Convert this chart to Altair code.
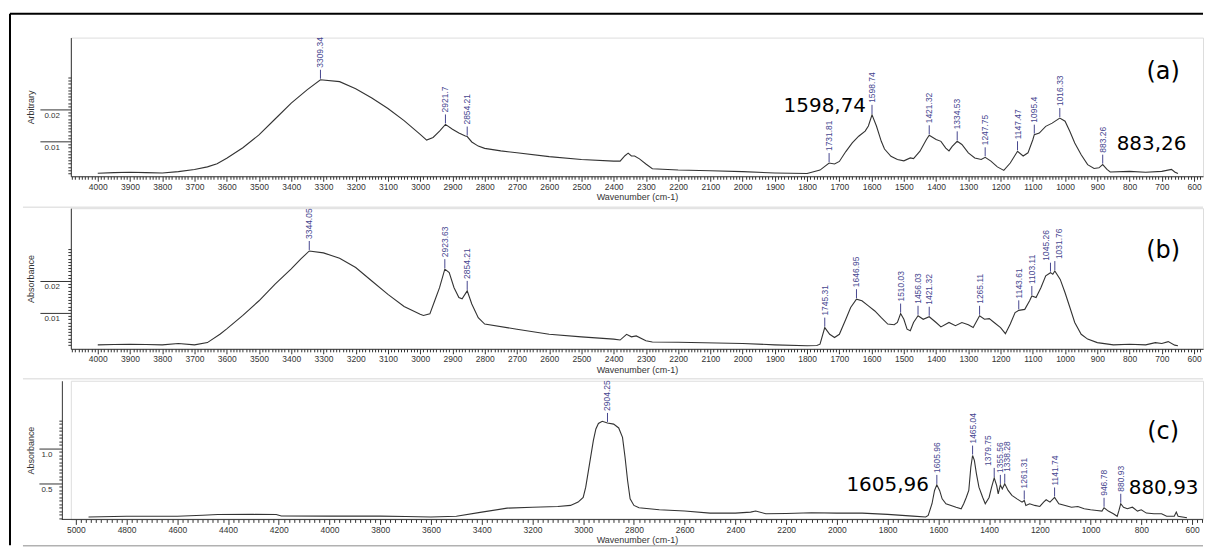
import altair as alt
import numpy as np
import pandas as pd

# ---------------- panel (a) ----------------
A_WAVENUMBER = [4000, 3950, 3900, 3850, 3800, 3750, 3700, 3660, 3630, 3600, 3550, 3500, 3450, 3400,
                3350, 3309.34, 3250, 3200, 3150, 3100, 3050, 3000, 2980, 2960, 2940, 2921.7, 2900,
                2880, 2860, 2854.21, 2840, 2820, 2800, 2750, 2700, 2600, 2500, 2400, 2380, 2365, 2355,
                2345, 2335, 2320, 2300, 2280, 2200, 2100, 2000, 1900, 1800, 1760, 1731.81, 1715, 1700,
                1680, 1660, 1640, 1620, 1610, 1598.74, 1585, 1570, 1560, 1540, 1520, 1500, 1480, 1470,
                1450, 1430, 1421.32, 1400, 1385, 1370, 1360, 1350, 1334.53, 1320, 1300, 1280, 1260,
                1247.75, 1230, 1210, 1190, 1170, 1147.47, 1130, 1115, 1100, 1095.4, 1080, 1060, 1040,
                1016.33, 1000, 985, 970, 950, 930, 910, 895, 883.26, 870, 860, 800, 750, 700, 670, 660, 650]
A_ARBITRARY = [0.0, 0.0002, 0.0003, 0.0002, 0.0001, 0.0005, 0.0012, 0.0020, 0.0030, 0.0047, 0.0080,
               0.0120, 0.0170, 0.0220, 0.0262, 0.0293, 0.0287, 0.0265, 0.0236, 0.0203, 0.0165, 0.0122,
               0.0104, 0.0112, 0.0132, 0.0153, 0.0138, 0.0126, 0.0117, 0.0115, 0.0098, 0.0085, 0.0078,
               0.0070, 0.0064, 0.0052, 0.0043, 0.0038, 0.0038, 0.0055, 0.0063, 0.0054, 0.0054, 0.0045,
               0.0029, 0.0014, 0.0010, 0.0008, 0.0005, 0.0001, -0.0001, 0.0010, 0.0032, 0.0029, 0.0037,
               0.0068, 0.0095, 0.0116, 0.0132, 0.0148, 0.0183, 0.0148, 0.0100, 0.0076, 0.0053, 0.0043,
               0.0039, 0.0048, 0.0046, 0.0069, 0.0106, 0.0119, 0.0106, 0.0100, 0.0079, 0.0070, 0.0084,
               0.0100, 0.0090, 0.0064, 0.0048, 0.0043, 0.0050, 0.0038, 0.0020, 0.0009, 0.0032, 0.0069,
               0.0054, 0.0064, 0.0105, 0.0121, 0.0126, 0.0147, 0.0157, 0.0173, 0.0163, 0.0131, 0.0095,
               0.0058, 0.0027, 0.0015, 0.0017, 0.0027, 0.0012, 0.0004, 0.0006, 0.0003, 0.0006, 0.0012,
               0.0004, -0.0001]
A_PEAKS = ["3309.34", "2921.7", "2854.21", "1731.81", "1598.74", "1421.32", "1334.53", "1247.75",
           "1147.47", "1095.4", "1016.33", "883.26"]

# ---------------- panel (b) ----------------
B_WAVENUMBER = [4000, 3950, 3900, 3850, 3800, 3750, 3700, 3660, 3620, 3600, 3550, 3500, 3450, 3400,
                3370, 3344.05, 3300, 3250, 3200, 3150, 3100, 3050, 3000, 2990, 2970, 2955, 2940, 2923.63,
                2910, 2895, 2880, 2870, 2854.21, 2840, 2820, 2800, 2700, 2600, 2500, 2400, 2380, 2360,
                2345, 2330, 2300, 2280, 2200, 2000, 1900, 1800, 1770, 1760, 1745.31, 1730, 1715, 1700,
                1680, 1665, 1646.95, 1630, 1610, 1590, 1570, 1550, 1530, 1520, 1510.03, 1500, 1490, 1480,
                1470, 1456.03, 1440, 1421.32, 1400, 1385, 1360, 1340, 1320, 1300, 1285, 1265.11, 1250,
                1235, 1220, 1200, 1185, 1170, 1155, 1143.61, 1125, 1110, 1103.11, 1090, 1075, 1060,
                1045.26, 1038, 1031.76, 1015, 1000, 985, 970, 950, 930, 900, 850, 800, 750, 720, 700,
                680, 660, 650]
B_ABSORBANCE = [0.0, 0.0001, 0.0002, 0.0001, 0.0, 0.0004, 0.0, 0.0007, 0.0034, 0.0050, 0.0092, 0.0138,
                0.0190, 0.0238, 0.0269, 0.0294, 0.0288, 0.0271, 0.0242, 0.0200, 0.0158, 0.0120, 0.0096,
                0.0092, 0.0097, 0.0138, 0.0179, 0.0237, 0.0226, 0.0179, 0.0148, 0.0144, 0.0169, 0.0128,
                0.0085, 0.0065, 0.0049, 0.0033, 0.0025, 0.0018, 0.0015, 0.0033, 0.0025, 0.0028, 0.0013,
                0.0009, 0.0008, 0.0004, 0.0, -0.0003, -0.0002, 0.0002, 0.0054, 0.0033, 0.0023, 0.0033,
                0.0080, 0.0117, 0.0143, 0.0138, 0.0122, 0.0106, 0.0085, 0.0065, 0.0063, 0.0070, 0.0098,
                0.0080, 0.0049, 0.0044, 0.0070, 0.0091, 0.0080, 0.0088, 0.0070, 0.0056, 0.0070, 0.0060,
                0.0070, 0.0063, 0.0054, 0.0091, 0.0080, 0.0082, 0.0070, 0.0054, 0.0035, 0.0065, 0.0101,
                0.0108, 0.0111, 0.0138, 0.0153, 0.0148, 0.0179, 0.0216, 0.0226, 0.0221, 0.0231, 0.0205,
                0.0163, 0.0117, 0.0070, 0.0033, 0.0018, 0.0007, 0.0, 0.0002, 0.0, 0.0007, 0.0004, 0.0010,
                -0.0001, -0.0003]
B_PEAKS = ["3344.05", "2923.63", "2854.21", "1745.31", "1646.95", "1510.03", "1456.03", "1421.32",
           "1265.11", "1143.61", "1103.11", "1045.26", "1031.76"]

# ---------------- panel (c) ----------------
C_WAVENUMBER = [4950, 4800, 4600, 4500, 4440, 4300, 4210, 4190, 4000, 3800, 3700, 3600, 3500, 3400,
                3300, 3200, 3100, 3050, 3020, 3000, 2990, 2975, 2960, 2950, 2940, 2925, 2904.25, 2880,
                2860, 2845, 2835, 2825, 2815, 2800, 2780, 2700, 2600, 2500, 2400, 2340, 2320, 2280, 2200,
                2100, 2000, 1900, 1800, 1700, 1650, 1640, 1625, 1615, 1605.96, 1595, 1585, 1570, 1550,
                1530, 1510, 1500, 1490, 1480, 1472, 1465.04, 1458, 1450, 1440, 1425, 1415, 1400, 1390,
                1379.75, 1370, 1364, 1355.56, 1348, 1338.28, 1325, 1310, 1290, 1270, 1261.31, 1255, 1240,
                1220, 1200, 1185, 1175, 1160, 1141.74, 1125, 1100, 1075, 1050, 1025, 1000, 975, 955,
                946.78, 930, 910, 895, 888, 880.93, 870, 855, 835, 815, 800, 780, 750, 720, 700, 670,
                662, 655, 620]
C_ABSORBANCE = [0.02, 0.03, 0.03, 0.045, 0.055, 0.057, 0.055, 0.035, 0.033, 0.033, 0.028, 0.02, 0.03,
                0.09, 0.147, 0.16, 0.171, 0.186, 0.233, 0.30, 0.447, 0.78, 1.114, 1.28, 1.36, 1.39,
                1.367, 1.35, 1.295, 1.16, 0.876, 0.543, 0.28, 0.186, 0.152, 0.124, 0.105, 0.076, 0.076,
                0.09, 0.105, 0.067, 0.071, 0.08, 0.076, 0.076, 0.057, 0.033, 0.02, 0.043, 0.21, 0.40,
                0.48, 0.40, 0.28, 0.21, 0.186, 0.16, 0.138, 0.21, 0.30, 0.40, 0.733, 0.90, 0.83, 0.64,
                0.447, 0.30, 0.21, 0.30, 0.447, 0.58, 0.47, 0.35, 0.48, 0.42, 0.495, 0.40, 0.33, 0.28,
                0.233, 0.257, 0.186, 0.21, 0.186, 0.171, 0.233, 0.267, 0.233, 0.30, 0.21, 0.186, 0.16,
                0.171, 0.138, 0.124, 0.114, 0.105, 0.152, 0.105, 0.067, 0.03, 0.114, 0.21, 0.16, 0.138,
                0.16, 0.105, 0.124, 0.076, 0.067, 0.067, 0.03, 0.03, 0.09, 0.03, 0.01]
C_PEAKS = ["2904.25", "1605.96", "1465.04", "1379.75", "1355.56", "1338.28", "1261.31", "1141.74",
           "946.78", "880.93"]

# big annotations written beside two peaks in panels (a) and (c)
A_NOTES = ["1598,74", "883,26"]
C_NOTES = ["1605,96", "880,93"]
TAGS = ["(a)", "(b)", "(c)"]

FONT_SMALL = "Liberation Sans"
FONT_BIG = "DejaVu Sans"
INK = "#333333"
PEAK_INK = "#46468f"
PLOT_W = 1135


def peak_frame(ws, vs, labels):
    lookup = dict(zip(ws, vs))
    return pd.DataFrame({"w": [float(t) for t in labels],
                         "v": [lookup[float(t)] for t in labels],
                         "t": labels})


def one_row(**kw):
    return pd.DataFrame({k: [v] for k, v in kw.items()})


def panel(ws, vs, peaks, nudges, notes, tag, *, xdom, xstep, xmajor, ydom, yvals, ytest, yfmt,
          ytitle, height, ytick, ylabpad, yoffset, titlex, tag_y, c_axis=False):
    df = pd.DataFrame({"w": ws, "v": vs})
    xs = alt.Scale(domain=xdom, reverse=True, nice=False, zero=False)
    ys = alt.Scale(domain=ydom, nice=False, zero=False)
    xt = f"datum.value % {xmajor} === 0"
    xvals = list(range(int(np.ceil(xdom[0] / xstep) * xstep), int(xdom[1]) + 1, xstep))
    xaxis_kw = dict(values=xvals, format="d", labelExpr=f"{xt} ? datum.label : ''",
                    labelOverlap=False, tickSize={"condition": {"test": xt, "value": 5}, "value": 3},
                    tickColor=INK, domainColor=INK, labelColor=INK, labelFont=FONT_SMALL,
                    labelFontSize=8.5, labelPadding=1, title="Wavenumber (cm-1)",
                    titleFont=FONT_SMALL, titleFontSize=9, titleFontWeight="normal",
                    titleColor=INK, titlePadding=2, grid=False)
    if c_axis:
        xaxis_kw["domain"] = False
    xaxis = alt.Axis(**xaxis_kw)
    yaxis_kw = dict(values=yvals, labelExpr=f"{ytest} ? format(datum.value, '{yfmt}') : ''",
                    labelOverlap=False,
                    tickSize={"condition": {"test": ytest, "value": ytick}, "value": 3},
                    tickColor=INK, domainColor=INK, labelColor=INK, labelFont=FONT_SMALL,
                    labelFontSize=8, labelAlign="left", labelBaseline="top",
                    labelPadding=ylabpad, labelOffset=2, title=ytitle, titleFont=FONT_SMALL,
                    titleFontSize=9, titleFontWeight="normal", titleColor=INK,
                    titleX=titlex, titleY=height / 2, titleAngle=270, titleAlign="center",
                    titleBaseline="middle", grid=False)
    if yoffset:
        yaxis_kw["offset"] = yoffset
    yaxis = alt.Axis(**yaxis_kw)
    X = alt.X("w:Q", scale=xs, axis=xaxis)
    Y = alt.Y("v:Q", scale=ys, axis=yaxis)

    layers = [alt.Chart(df).mark_line(color=INK, strokeWidth=1.1).encode(x=X, y=Y)]

    pdf = peak_frame(ws, vs, peaks)
    layers.append(alt.Chart(pdf).mark_rule(color=PEAK_INK, strokeWidth=1, yOffset=-1,
                                           y2Offset=-10).encode(x=X, y=Y, y2=alt.Y2("v")))
    groups = {}
    for t in peaks:
        groups.setdefault(nudges.get(t, 0), []).append(t)
    for shift, labs in groups.items():
        layers.append(alt.Chart(pdf[pdf["t"].isin(labs)]).mark_text(
            angle=270, align="left", baseline="middle", yOffset=-12, xOffset=shift,
            font=FONT_SMALL, fontSize=8.5, color=PEAK_INK).encode(x=X, y=Y, text="t:N"))

    for note, (align, dx, dy) in notes:
        w = float(note.replace(",", "."))
        ndf = one_row(w=w, v=dict(zip(ws, vs))[w], t=note)
        layers.append(alt.Chart(ndf).mark_text(align=align, baseline="middle", dx=dx, dy=dy,
                                               font=FONT_BIG, fontSize=20, color="black")
                      .encode(x=X, y=Y, text="t:N"))

    layers.append(alt.Chart(one_row(t=tag)).mark_text(
        align="center", baseline="middle", font=FONT_BIG, fontSize=24, color="black")
        .encode(x=alt.value(1095), y=alt.value(tag_y), text="t:N"))
    return layers, height


# ---- frame decorations ----
def hrule(y, x1, x2, color, width):
    return alt.Chart(one_row(k=0)).mark_rule(color=color, strokeWidth=width).encode(
        x=alt.value(x1), x2=alt.value(x2), y=alt.value(y))


def vrule(x, y1, y2, color, width):
    return alt.Chart(one_row(k=0)).mark_rule(color=color, strokeWidth=width).encode(
        x=alt.value(x), y=alt.value(y1), y2=alt.value(y2))


ab_test = "abs(datum.value - 0.01) < 1e-6 || abs(datum.value - 0.02) < 1e-6"
ab_vals = [round(i * 0.001, 3) for i in range(0, 31)]
c_test = "abs(datum.value - 0.5) < 1e-6 || abs(datum.value - 1) < 1e-6"
c_vals = [round(i * 0.05, 2) for i in range(0, 29)]
RIGHT = PLOT_W

la, ha = panel(A_WAVENUMBER, A_ARBITRARY, A_PEAKS, {},
               [(A_NOTES[0], ("right", -6, -9)), (A_NOTES[1], ("left", 14, -21))], TAGS[0],
               xdom=[572.2, 4083.5], xstep=10, xmajor=100, ydom=[-0.00094, 0.0425], yvals=ab_vals,
               ytest=ab_test, yfmt=".2f", ytitle="Arbitrary", height=139, ytick=31, ylabpad=-4,
               yoffset=0, titlex=-40, tag_y=34)
la += [hrule(-24, -61, RIGHT, "black", 2), vrule(-61, -24, 509, "black", 2)]
chart_a = alt.layer(*la).properties(width=PLOT_W, height=ha)

lb, hb = panel(B_WAVENUMBER, B_ABSORBANCE, B_PEAKS, {"1045.26": -4, "1031.76": 4}, [], TAGS[1],
               xdom=[572.2, 4083.5], xstep=10, xmajor=100, ydom=[-0.00125, 0.0428], yvals=ab_vals,
               ytest=ab_test, yfmt=".2f", ytitle="Absorbance", height=141, ytick=31, ylabpad=-4,
               yoffset=0, titlex=-40, tag_y=43)
lb += [hrule(-1, -48, RIGHT, "#e4e4e4", 1.5)]
chart_b = alt.layer(*lb).properties(width=PLOT_W, height=hb)

lc, hc = panel(C_WAVENUMBER, C_ABSORBANCE, C_PEAKS, {"1379.75": -6, "1338.28": 2},
               [(C_NOTES[0], ("right", -8, 0)), (C_NOTES[1], ("left", 8, -16))], TAGS[2],
               xdom=[556.7, 5019.7], xstep=20, xmajor=200, ydom=[-0.0143, 1.971], yvals=c_vals,
               ytest=c_test, yfmt=".1f", ytitle="Absorbance", height=139, ytick=23, ylabpad=-2,
               yoffset=9, titlex=-31, tag_y=51, c_axis=True)
lc += [hrule(-2, -48, RIGHT, "#e4e4e4", 1.5), hrule(165.5, -48, RIGHT, "#8a8a8a", 1),
       hrule(139, -9, RIGHT, INK, 1)]
chart_c = alt.layer(*lc).properties(width=PLOT_W, height=hc)

chart = alt.vconcat(chart_a, chart_b, chart_c, spacing=32, bounds="flush").properties(
    padding={"left": 0, "top": 3, "right": 0, "bottom": 0}
).configure_view(stroke="transparent").configure_axis(grid=False).configure(background="white")

chart.save("out.html", embed_options={"renderer": "svg", "actions": False})
